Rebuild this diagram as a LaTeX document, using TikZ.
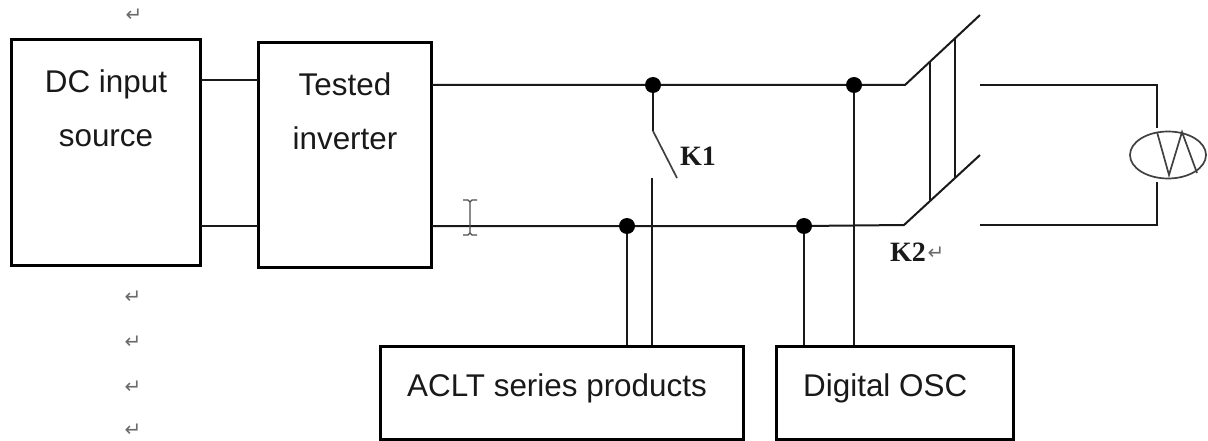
\documentclass[tikz,border=0pt]{standalone}
\usepackage{fontspec}
\usetikzlibrary{shapes.geometric}
\setmainfont{Liberation Sans}
\newfontfamily\serifbold{Liberation Serif}
\newfontfamily\djv{DejaVu Sans}
\definecolor{retgray}{gray}{0.42}
\tikzset{
  wire/.style={line width=2pt,black!90},
  thin wire/.style={line width=1.7pt,black!75},
  box/.style={draw=black,line width=2.6pt,fill=white,inner sep=0pt,anchor=north west},
  dot/.style={circle,fill=black,inner sep=0pt,minimum size=16pt},
  lbl/.style={font=\fontsize{31.4}{54}\selectfont,align=center,inner sep=0pt,text=black!90},
  sw/.style={font=\serifbold\bfseries\fontsize{28}{30}\selectfont,inner sep=0pt,text=black!90},
  ret/.style={font=\djv\fontsize{20}{20}\selectfont,text=retgray,inner sep=0pt}
}
\begin{document}
\begin{tikzpicture}[x=1pt,y=-1pt]
\useasboundingbox (0,0) rectangle (1208,441);
% boxes
\node[box,minimum width=189pt,minimum height=226pt] (dc) at (10,38) {};
\node[box,minimum width=173pt,minimum height=225pt] (inv) at (257,41) {};
\node[box,minimum width=363pt,minimum height=93pt] (aclt) at (379,345) {};
\node[box,minimum width=237pt,minimum height=93pt] (osc) at (775,345) {};
\node[lbl] (dct) at (106,108) {DC input\\source};
\node[lbl] (invt) at (345,111) {Tested\\inverter};
\node[lbl,anchor=west] (aclttxt) at (407,388) {ACLT series products};
\node[lbl,anchor=west] (osctxt) at (803,388) {Digital OSC};
% junctions and named points
\node[dot] (j1) at (653,85) {};
\node[dot] (j2) at (854,85) {};
\node[dot] (j3) at (627,226) {};
\node[dot] (j4) at (804,226) {};
\coordinate (dcT) at (201,80);
\coordinate (invTL) at (258,80);
\coordinate (dcB) at (201,226);
\coordinate (invBL) at (258,226);
\coordinate (invT) at (432,85);
\coordinate (invB) at (432,226);
\coordinate (k2a) at (905,85);
\coordinate (k2b) at (904,225);
\coordinate (k2aEnd) at (980,15);
\coordinate (k2bEnd) at (980,155);
\coordinate (r1) at (980,85);
\coordinate (r2) at (980,225);
\coordinate (rc1) at (1157,85);
\coordinate (rc2) at (1157,225);
\coordinate (k1a) at (653,131);
\coordinate (k1b) at (677,178);
\coordinate (k1c) at (652,178);
% wires
\draw[wire] (dcT) -- (invTL);
\draw[wire] (dcB) -- (invBL);
\draw[wire] (invT) -- (j1) -- (j2) -- (k2a) -- (k2aEnd);
\draw[wire] (invB) -- (j3) -- (j4) -- (k2b) -- (k2bEnd);
\draw[wire] (j1) -- (k1a);
\draw[thin wire] (k1a) -- (k1b);
\draw[wire] (k1c) -- (k1c |- aclt.north);
\draw[wire] (j3) -- (j3 |- aclt.north);
\draw[wire] (j4) -- (j4 |- osc.north);
\draw[wire] (j2) -- (j2 |- osc.north);
% ganged bars
\draw[wire] (930,62) -- (930,200);
\draw[wire] (955,38) -- (955,178);
% load
\node[draw=black!75,line width=1.7pt,ellipse,inner sep=0pt,minimum width=76pt,minimum height=47pt] (load) at (1168,155) {};
\draw[wire] (r1) -- (rc1) -- (1157,128);
\draw[wire] (r2) -- (rc2) -- (1157,182);
\draw[thin wire,line join=miter] (1157,132) -- (1169,175) -- (1182,132) -- (1197,173);
% cursor
\draw[line width=1.3pt,black!70] (470,201) -- (470,234)
  (463,200) -- (468,200) -- (470,202) -- (472,200) -- (477,200)
  (463,235) -- (468,235) -- (470,233) -- (472,235) -- (477,235);
% labels
\node[sw] (k1t) at (698,156) {K1};
\node[sw,anchor=west] (k2t) at (890,252) {K2};
\node[ret] (r0) at (134,15) {↵};
\node[ret] (r5) at (936,253) {↵};
\node[ret] (r1t) at (133,297) {↵};
\node[ret] (r2t) at (133,342) {↵};
\node[ret] (r3t) at (133,387) {↵};
\node[ret] (r4t) at (133,430) {↵};
\end{tikzpicture}
\end{document}
